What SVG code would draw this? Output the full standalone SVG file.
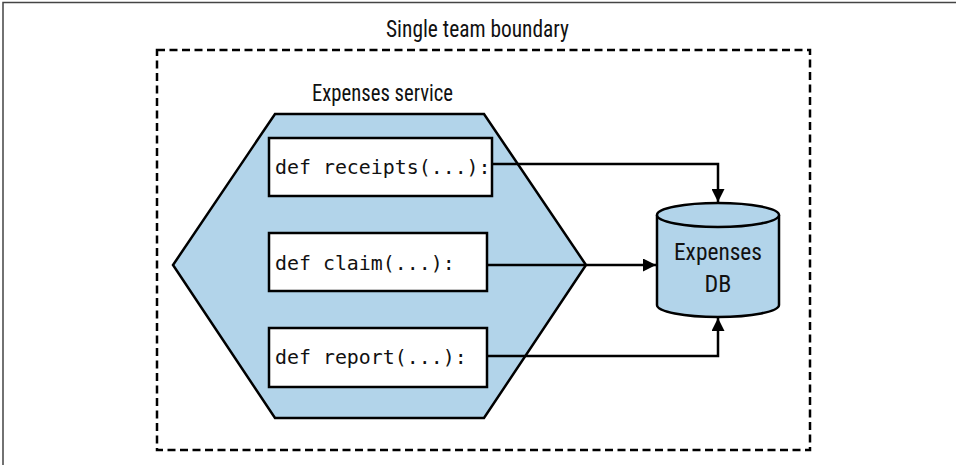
<svg xmlns="http://www.w3.org/2000/svg" width="956" height="465" viewBox="0 0 956 465">
<defs>
<marker id="arr" viewBox="0 0 13 13" refX="13" refY="6.5" markerWidth="13" markerHeight="13" markerUnits="userSpaceOnUse" orient="auto">
<path d="M0,0 L13,6.5 L0,13 Z" fill="#000"/>
</marker>
<style>
.lbl{font-family:"Liberation Sans Narrow","Roboto Condensed","Liberation Sans",Arial,sans-serif;font-stretch:condensed;fill:#111;}
.code{font-family:"DejaVu Sans Mono","Liberation Mono",monospace;font-size:19.9px;fill:#111;}
.box{fill:#fff;stroke:#000;stroke-width:2.5;}
.blue{fill:#b2d4ea;stroke:#000;stroke-width:2.5;}
.conn{fill:none;stroke:#000;stroke-width:2.5;}
</style>
</defs>
<rect width="956" height="465" fill="#fff"/>
<path d="M3,465 L3,2.5 L956,2.5" fill="none" stroke="#444" stroke-width="1.5"/>

<g id="boundary">
<rect x="157" y="50" width="653" height="400" fill="none" stroke="#000" stroke-width="2.5" stroke-dasharray="8,4.5"/>
<text class="lbl" x="477.5" y="37" font-size="23" text-anchor="middle" textLength="183" lengthAdjust="spacingAndGlyphs">Single team boundary</text>
</g>

<g id="expenses-service">
<polygon class="blue" points="275,114 484,114 586,265 484,418 275,418 173,265"/>
<text class="lbl" x="382.5" y="101" font-size="23" text-anchor="middle" textLength="141" lengthAdjust="spacingAndGlyphs">Expenses service</text>
</g>

<g id="receipts">
<rect class="box" x="269" y="138" width="223" height="58"/>
<text class="code" x="275" y="174">def receipts(...):</text>
</g>

<g id="claim">
<rect class="box" x="269" y="233" width="218" height="58"/>
<text class="code" x="275" y="270">def claim(...):</text>
</g>

<g id="report">
<rect class="box" x="269" y="328" width="218" height="59"/>
<text class="code" x="275" y="364">def report(...):</text>
</g>

<g id="expenses-db">
<path class="blue" d="M657,215 L657,305 A61,12 0 0 0 779,305 L779,215"/>
<ellipse class="blue" cx="718" cy="215" rx="61" ry="12"/>
<text class="lbl" x="718" y="260" font-size="24" text-anchor="middle" textLength="88" lengthAdjust="spacingAndGlyphs">Expenses</text>
<text class="lbl" x="718" y="292" font-size="24" text-anchor="middle">DB</text>
</g>

<g id="connectors">
<path class="conn" d="M492,164 L718,164 L718,202" marker-end="url(#arr)"/>
<path class="conn" d="M487,265 L656,265" marker-end="url(#arr)"/>
<path class="conn" d="M487,356 L718,356 L718,318" marker-end="url(#arr)"/>
</g>
</svg>
